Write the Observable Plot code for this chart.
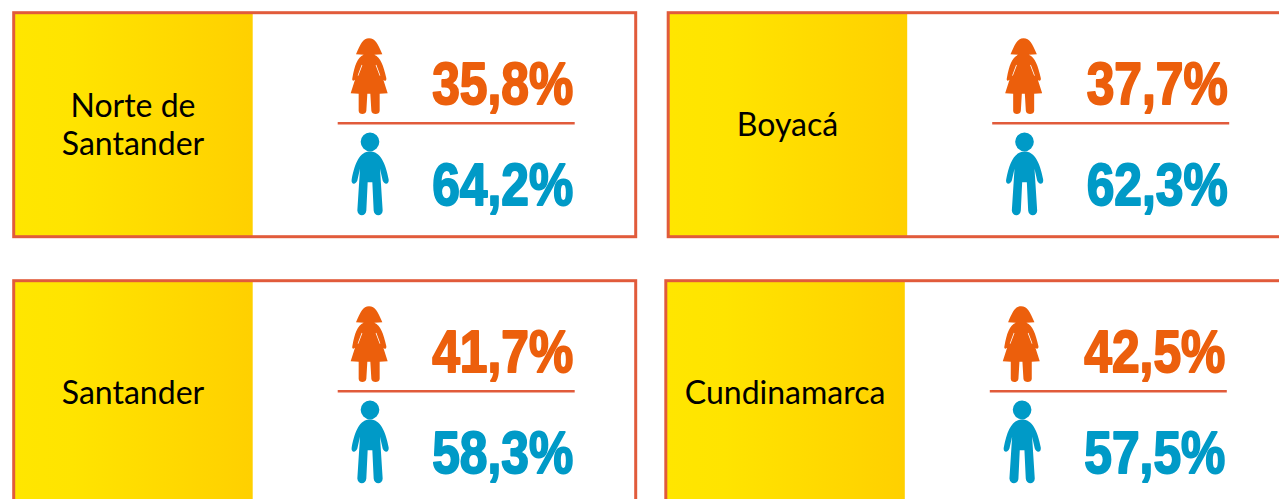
<!DOCTYPE html>
<html><head><meta charset="utf-8">
<script src="https://cdn.jsdelivr.net/npm/d3@7"></script>
<script src="https://cdn.jsdelivr.net/npm/@observablehq/plot@0.6"></script>
<style>html,body{margin:0;padding:0;background:#fff;overflow:hidden}svg{display:block}</style>
</head><body><div id="chart"></div>
<script>
const regions = ["Norte de\nSantander", "Boyacá", "Santander", "Cundinamarca"];
const girlShare = [35.8, 37.7, 41.7, 42.5];
const boyShare = [64.2, 62.3, 58.3, 57.5];

// panel layout, in page pixels
const panelLeft = [13.7, 668.2, 13.7, 665.8];
const panelTop = [12.7, 12.7, 280.7, 280.7];
const panelW = 622, panelH = 224, bandW = 239;
const orange = "#ec5f0c", blue = "#009ac7", frame = "#e15b3b";

const panels = regions.map((name, i) => ({
  name, girl: girlShare[i], boy: boyShare[i], l: panelLeft[i], t: panelTop[i]
}));
const pct = v => v.toFixed(1).replace(".", ",") + "%";

// icon outlines traced at 3x, centred on the icon
function traced(ctx, cx, cy, build) {
  const X = x => (x - cx) / 3, Y = y => (y - cy) / 3;
  build({
    M: (x, y) => ctx.moveTo(X(x), Y(y)),
    L: (x, y) => ctx.lineTo(X(x), Y(y)),
    C: (a, b, c, d, e, f) => ctx.bezierCurveTo(X(a), Y(b), X(c), Y(d), X(e), Y(f)),
    Z: () => ctx.closePath(),
    O: (x, y, r) => { ctx.moveTo(X(x + r), Y(y)); ctx.arc(X(x), Y(y), r / 3, 0, 2 * Math.PI); ctx.closePath(); }
  });
}
const girlIcon = {draw(ctx) {
  traced(ctx, 115, 154, p => {
    p.M(115,40); p.C(134,40,141,56,155,88); p.L(131,90);
    p.C(150,98,158,122,167,160); p.C(168,169,161,169,158,165);
    p.L(171,205); p.L(147,207); p.L(147,258); p.C(147,271,123,271,122,258);
    p.L(119,207); p.L(110,207); p.L(107,258); p.C(106,271,84,271,84,258);
    p.L(84,207); p.L(60,205); p.L(73,165); p.C(69,169,63,168,65,160);
    p.C(72,122,80,98,99,90); p.L(76,88); p.C(90,56,97,40,115,40); p.Z();
    p.M(93,120); p.L(81,152); p.L(83,153); p.L(95,121); p.Z();
    p.M(137,120); p.L(135,121); p.L(147,153); p.L(149,152); p.Z();
  });
}};
const boyIcon = {draw(ctx) {
  traced(ctx, 120, 446, p => {
    p.O(120,349,28);
    p.M(120,378); p.C(150,378,166,410,176,462); p.C(178,478,162,478,158,465);
    p.L(150,430); p.L(158,555); p.C(158,574,132,574,131,555);
    p.L(127,470); p.L(113,470); p.L(109,555); p.C(108,574,83,574,82,555);
    p.L(90,430); p.L(82,465); p.C(78,478,62,478,65,462);
    p.C(75,410,90,378,120,378); p.Z();
  });
}};

const gradientDefs = () => {
  const defs = d3.create("svg:defs");
  const g = defs.append("linearGradient").attr("id", "band");
  g.append("stop").attr("offset", "0%").attr("stop-color", "#ffe600");
  g.append("stop").attr("offset", "25%").attr("stop-color", "#ffe400");
  g.append("stop").attr("offset", "100%").attr("stop-color", "#ffd000");
  return defs.node();
};

// condense the bold figures to the reference's narrow proportions
const condensed = (index, scales, values, dims, ctx, next) => {
  const g = next(index, scales, values, dims, ctx);
  d3.select(g).selectAll("text").attr("textLength", 141).attr("lengthAdjust", "spacingAndGlyphs");
  return g;
};

const bigText = {fontFamily: "'Liberation Sans'", fontWeight: "bold", fontSize: 60, textAnchor: "end", lineAnchor: "middle", strokeWidth: 2, render: condensed};

const chart = Plot.plot({
  width: 1279, height: 499, margin: 0,
  x: {type: "linear", domain: [0, 1279], range: [0, 1279], axis: null},
  y: {type: "linear", domain: [0, 499], range: [0, 499], axis: null},
  marks: [
    gradientDefs,
    Plot.rect(panels, {x1: d => d.l, x2: d => d.l + bandW, y1: d => d.t, y2: d => d.t + panelH, fill: "url(#band)"}),
    Plot.rect(panels, {x1: d => d.l, x2: d => d.l + panelW, y1: d => d.t, y2: d => d.t + panelH, fill: "none", stroke: frame, strokeWidth: 3}),
    Plot.text(panels, {x: d => d.l + 118.8, y: d => d.t + 111, text: "name", fill: "#000", fontFamily: "Lato", fontSize: 32, lineHeight: 1.19, lineAnchor: "middle"}),
    Plot.ruleY(panels, {x1: d => d.l + 324, x2: d => d.l + 561, y: d => d.t + 110, stroke: frame, strokeWidth: 2.5}),
    Plot.dot(panels, {x: d => d.l + 354.8, y: d => d.t + 63, r: 1, symbol: girlIcon, fill: orange}),
    Plot.dot(panels, {x: d => d.l + 355.8, y: d => d.t + 161, r: 1, symbol: boyIcon, fill: blue}),
    Plot.text(panels, {x: d => d.l + 559, y: d => d.t + 72, text: d => pct(d.girl), fill: orange, stroke: orange, ...bigText}),
    Plot.text(panels, {x: d => d.l + 559, y: d => d.t + 173, text: d => pct(d.boy), fill: blue, stroke: blue, ...bigText})
  ]
});
document.getElementById("chart").append(chart);
</script>
</body></html>
